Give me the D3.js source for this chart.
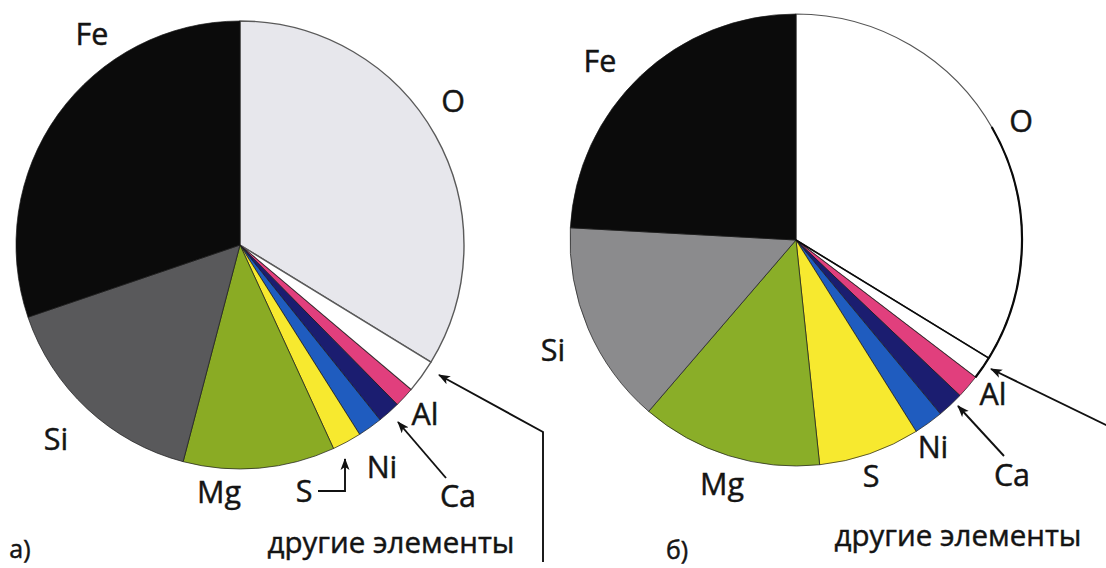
<!DOCTYPE html>
<html>
<head>
<meta charset="utf-8">
<script src="https://cdn.jsdelivr.net/npm/d3@7/dist/d3.min.js"></script>
<style>
  html, body { margin: 0; padding: 0; background: #ffffff; }
  svg { display: block; }
  text { font-family: "Open Sans", "Noto Sans", sans-serif; fill: #141414; stroke: #141414; stroke-width: 0.45px; }
</style>
</head>
<body>
<svg id="chart" width="1106" height="568"></svg>
<script>
// ---- data ----
const categories = ["O", "others", "Al", "Ca", "Ni", "S", "Mg", "Si", "Fe"];
const valuesA = [33.75, 2.42, 1.44, 1.64, 1.78, 2.11, 10.94, 15.69, 30.22];
const valuesB = [33.75, 1.64, 1.69, 1.89, 2.11, 7.25, 12.97, 14.56, 24.14];
const sliceLabels = ["O", "другие элементы", "Al", "Ca", "Ni", "S", "Mg", "Si", "Fe"];
const panelLabels = ["а)", "б)"];

// ---- styles ----
const colorsA = ["#e7e7ec", "#ffffff", "#e13f7d", "#1b1d70", "#1f5cbf", "#f7e92f", "#8aab24", "#59595b", "#0b0b0b"];
const colorsB = ["#ffffff", "#ffffff", "#e13f7d", "#1b1d70", "#1f5cbf", "#f7e92f", "#8aae28", "#8b8b8d", "#0b0b0b"];

// ---- layout ----
const layouts = [
  {
    cx: 240, cy: 245, r: 224, values: valuesA, colors: colorsA, outline: "#5a5a5a", outlineW: 1.4,
    thickFrom: null,
    labels: { O: [453, 112], Al: [425, 425], Ca: [458, 507], Ni: [382, 478], S: [304, 502], Mg: [219, 503], Si: [56, 450], Fe: [92, 45], others: [391, 553] },
    panel: [20, 558],
    arrows: [
      [[318, 491], [345, 491], [345, 459]],
      [[446, 478], [398, 422]],
      [[543, 562], [543, 432], [439, 375]]
    ]
  },
  {
    cx: 796, cy: 240, r: 226, values: valuesB, colors: colorsB, outline: "#555555", outlineW: 1.2,
    thickFrom: 60,
    labels: { O: [1021, 132], Al: [993, 405], Ca: [1012, 486], Ni: [933, 458], S: [871, 487], Mg: [722, 495], Si: [553, 361], Fe: [600, 72], others: [958, 546] },
    panel: [677, 559],
    arrows: [
      [[1004, 456], [958, 406]],
      [[1110, 427], [991, 369]]
    ]
  }
];

const svg = d3.select("#chart");
svg.append("rect").attr("width", 1106).attr("height", 568).attr("fill", "#ffffff");

const defs = svg.append("defs");
defs.append("marker")
  .attr("id", "arrow")
  .attr("viewBox", "0 -5 12 10")
  .attr("refX", 11).attr("refY", 0)
  .attr("markerWidth", 12).attr("markerHeight", 10)
  .attr("markerUnits", "userSpaceOnUse")
  .attr("orient", "auto")
  .append("path")
  .attr("d", "M0,-4.5L12,0L0,4.5L3,0Z")
  .attr("fill", "#111");

const pie = d3.pie().sort(null).value(d => d.value).startAngle(0).endAngle(2 * Math.PI);

layouts.forEach((L, li) => {
  const data = categories.map((c, i) => ({ key: c, value: L.values[i], color: L.colors[i], label: sliceLabels[i] }));
  const arcs = pie(data);
  const arc = d3.arc().innerRadius(0).outerRadius(L.r);
  const g = svg.append("g").attr("transform", `translate(${L.cx},${L.cy})`);

  g.selectAll("path.slice")
    .data(arcs)
    .join("path")
    .attr("class", "slice")
    .attr("d", arc)
    .attr("fill", d => d.data.color)
    .attr("stroke", d => (d.data.key === "O" || d.data.key === "others") ? L.outline : "#1a1a1a")
    .attr("stroke-width", d => (d.data.key === "O" || d.data.key === "others") ? L.outlineW : 0.7)
    .attr("stroke-linejoin", "round");

  // thicker outline along lower part of O and the "others" slice (panel б)
  if (L.thickFrom !== null) {
    const oth = arcs.find(a => a.data.key === "others");
    const thick = d3.arc().innerRadius(L.r).outerRadius(L.r)
      .startAngle(L.thickFrom * Math.PI / 180).endAngle(oth.endAngle);
    g.append("path").attr("d", thick()).attr("fill", "none").attr("stroke", "#0a0a0a").attr("stroke-width", 2.2);
    const a0 = oth.startAngle;
    g.append("line")
      .attr("x1", 0).attr("y1", 0)
      .attr("x2", L.r * Math.sin(a0)).attr("y2", -L.r * Math.cos(a0))
      .attr("stroke", "#0a0a0a").attr("stroke-width", 1.6);
  }

  // labels
  arcs.forEach(a => {
    const p = L.labels[a.data.key];
    svg.append("text")
      .attr("x", p[0]).attr("y", p[1])
      .attr("text-anchor", "middle")
      .attr("font-size", a.data.key === "others" ? 29.5 : 30.5)
      .text(a.data.label);
  });

  svg.append("text")
    .attr("x", L.panel[0]).attr("y", L.panel[1])
    .attr("text-anchor", "middle")
    .attr("font-size", 25)
    .text(panelLabels[li]);

  // arrows
  const line = d3.line();
  L.arrows.forEach(pts => {
    svg.append("path")
      .attr("d", line(pts))
      .attr("fill", "none")
      .attr("stroke", "#111")
      .attr("stroke-width", 1.9)
      .attr("marker-end", "url(#arrow)");
  });
});
</script>
</body>
</html>
